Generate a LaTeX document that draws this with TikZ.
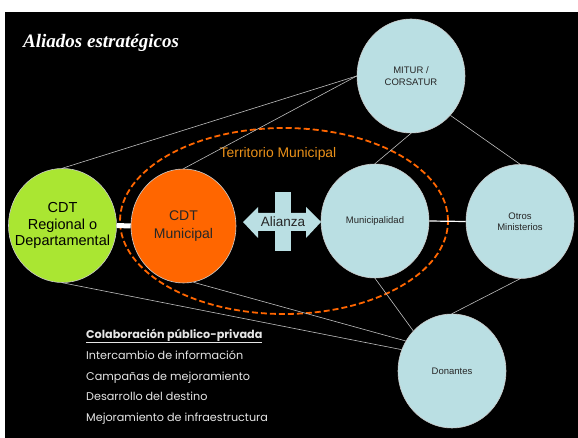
\documentclass[tikz,border=0pt]{standalone}
\usepackage{fontspec}
\usetikzlibrary{shapes.geometric}
\newfontfamily\arialfont{Liberation Sans}
\newfontfamily\gothicfont{Poppins}
\newfontfamily\titlefont{Liberation Serif}
\definecolor{celeste}{RGB}{186,223,227}
\definecolor{verdecdt}{RGB}{170,230,50}
\definecolor{naranja}{RGB}{255,102,0}
\definecolor{dorado}{RGB}{235,145,25}
\definecolor{linea}{RGB}{190,190,190}
\definecolor{texto}{RGB}{38,38,38}
\definecolor{claro}{RGB}{230,230,230}
\tikzset{
  aliado/.style={ellipse, draw=white!80!black, line width=0.6pt, fill=celeste,
    minimum width=108, minimum height=114, inner sep=0pt, align=center,
    text=texto, font=\arialfont\fontsize{9.5}{11.5}\selectfont},
  cdtlbl/.style={align=center, inner sep=0pt, font=\arialfont\fontsize{14.5}{16.7}\selectfont},
  enlace/.style={draw=linea, line width=0.6pt},
  lista/.style={anchor=base west, inner sep=0pt, text=claro, font=\gothicfont\fontsize{11.2}{13}\selectfont}
}
\begin{document}
\begin{tikzpicture}[x=1pt,y=-1pt]
\useasboundingbox (0,0) rectangle (578,438);
\fill[black] (5,12) rectangle (578,438);
%TITLE
  \node (titulo) at (23,48) [anchor=base west, inner sep=0pt, text=white, font=\titlefont\fontsize{19}{23}\selectfont\bfseries\itshape] {Aliados estrat\'egicos};

%TERRITORIO
  \node (territorio) at (284,221) [ellipse, draw=naranja, line width=1.8pt, dash pattern=on 6pt off 3pt,
    minimum width=328, minimum height=186, inner sep=0pt] {};
  \node (terrlbl) at (278,154) [text=dorado, font=\arialfont\fontsize{13.9}{16}\selectfont] {Territorio Municipal};

%ALIADOS
  \node (cdtreg) at (62.5,225.5) [aliado, fill=verdecdt] {};
  \node at (cdtreg) [cdtlbl, text=black] {CDT\\ Regional o\\ Departamental};
  \node (cdtmun) at (183.5,226) [aliado, fill=naranja, minimum width=105] {};
  \node at (cdtmun) [cdtlbl, text=texto, font=\arialfont\fontsize{14}{17.7}\selectfont] {CDT\\ Municipal};
  \node (mitur) at (411,76) [aliado] {MITUR /\\ CORSATUR};
  \node (muni) at (375,221) [aliado] {Municipalidad};
  \node (otros) at (520,221.5) [aliado] {Otros\\ Ministerios};
  \node (donantes) at (452,371) [aliado] {Donantes};

  \draw[white, line width=5pt] (cdtreg.east) -- (cdtmun.west);
  \draw[white, line width=1.2pt] (muni.east) -- (otros.west);

  \draw[enlace] (mitur.west) -- (cdtreg.north);
  \draw[enlace] (mitur.west) -- (cdtmun.north);
  \draw[enlace] (mitur.south) -- (muni.north);
  \draw[enlace] (mitur.-45) -- (otros.north);
  \draw[enlace] (muni.south) -- (donantes.134);
  \draw[enlace] (otros.south) -- (donantes.north);
  \draw[enlace] (cdtmun.-80) -- (donantes.147);
  \draw[enlace] (cdtreg.south) -- (donantes.157);

%ALIANZA
  \fill[celeste] (275,192) rectangle (291,251);
  \fill[celeste] (243,222) -- (258,207) -- (258,213) -- (306,213) -- (306,207) -- (321,222)
    -- (306,238) -- (306,231) -- (258,231) -- (258,238) -- cycle;
  \node (alianza) at (283,222) [text=texto, font=\arialfont\fontsize{13.5}{16}\selectfont] {Alianza};

%COLABORACION
  \node (colab) at (86,338) [lista] {\bfseries\underline{Colaboraci\'on p\'ublico-privada}};
  \node (inter) at (86,359) [lista] {Intercambio de informaci\'on};
  \node (campa) at (86,380) [lista] {Campa\~nas de mejoramiento};
  \node (desar) at (86,400) [lista] {Desarrollo del destino};
  \node (mejor) at (86,421) [lista] {Mejoramiento de infraestructura};
\end{tikzpicture}
\end{document}
